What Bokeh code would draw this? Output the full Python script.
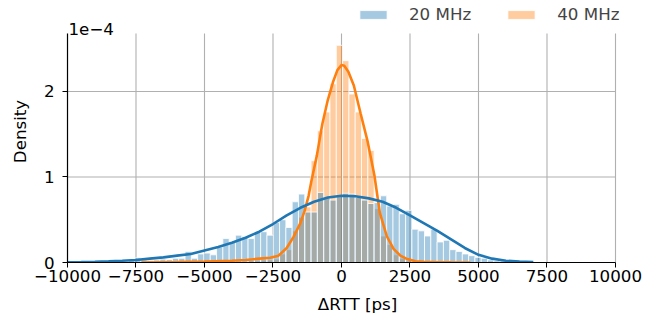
import numpy as np
from bokeh.plotting import figure
from bokeh.models import Range1d, FixedTicker, Legend, LegendItem, Label
from bokeh.embed import file_html
from bokeh.resources import INLINE

# ---------------- data (densities in units of 1e-4) ----------------
BIN_WIDTH = 230
BIN_ORIGIN = 40

blue_first_bin = -43
blue_density = [
    0.005, 0.0, 0.005, 0.01, 0.005, 0.01, 0.015, 0.02, 0.015, 0.03,      # -43..-34
    0.055, 0.03, 0.025, 0.03, 0.04, 0.035, 0.05, 0.05, 0.13, 0.05,       # -33..-24
    0.10, 0.11, 0.09, 0.18, 0.28, 0.24, 0.32, 0.30, 0.28, 0.35,          # -23..-14
    0.36, 0.32, 0.47, 0.50, 0.41, 0.71, 0.80, 0.59, 0.59, 0.82,          # -13..-4
    0.76, 0.73, 0.78, 0.81, 0.80, 0.76, 0.73, 0.69, 0.70, 0.78,          # -3..6
    0.66, 0.68, 0.57, 0.61, 0.39, 0.37, 0.31, 0.39, 0.24, 0.26,          # 7..16
    0.15, 0.13, 0.10, 0.08, 0.06, 0.05, 0.03, 0.02, 0.02, 0.01,          # 17..26
    0.01, 0.005,                                                         # 27..28
]

orange_first_bin = -16
orange_density = [
    0.01, 0.02, 0.02, 0.03, 0.03, 0.04, 0.10, 0.15, 0.37, 0.53,          # -16..-7
    0.65, 1.19, 1.54, 1.76, 2.09, 2.54, 2.36, 1.97, 1.76, 1.45,          # -6..3
    1.31, 0.63, 0.31, 0.21, 0.09, 0.05, 0.02, 0.01,                      # 4..11
]

blue_kde_x = [-10000, -9500, -9000, -8500, -8000, -7500, -7000, -6500, -6000, -5500,
              -5000, -4500, -4000, -3500, -3000, -2500, -2000, -1500, -1000, -500,
              0, 500, 1000, 1500, 2000, 2500, 3000, 3500, 4000, 4500,
              5000, 5500, 6000, 6500, 7000]
blue_kde_y = [0.003, 0.005, 0.008, 0.013, 0.02, 0.03, 0.045, 0.06, 0.08, 0.10,
              0.14, 0.18, 0.23, 0.29, 0.36, 0.45, 0.55, 0.64, 0.71, 0.76,
              0.78, 0.775, 0.75, 0.71, 0.64, 0.55, 0.46, 0.37, 0.27, 0.17,
              0.09, 0.045, 0.02, 0.01, 0.004]

orange_kde_x = [-7300, -6000, -5000, -4000, -3500, -3000, -2600, -2300, -2000, -1750,
                -1500, -1350, -1200, -1100, -900, -700, -500, -300, -150, 0,
                100, 250, 450, 700, 950, 1200, 1400, 1650, 1900, 2150,
                2400, 2700, 3000, 3500, 4000, 4700]
orange_kde_y = [0.0, 0.005, 0.01, 0.02, 0.03, 0.045, 0.055, 0.08, 0.17, 0.30,
                0.46, 0.60, 0.78, 0.95, 1.25, 1.62, 1.90, 2.12, 2.25, 2.31,
                2.30, 2.23, 2.07, 1.74, 1.42, 1.02, 0.58, 0.31, 0.16, 0.08,
                0.04, 0.015, 0.008, 0.003, 0.001, 0.0]

x_ticks = [-10000, -7500, -5000, -2500, 0, 2500, 5000, 7500, 10000]
y_ticks = [0, 1, 2]
x_min, x_max = -10000, 10000     # axes extent
x_canvas_max = 11168             # head-room to the right so the legend is not clipped
y_top = 2.678                    # top of the axes area (data units of 1e-4)
y_canvas_top = 3.064             # head-room above the axes for legend / scale text
y_scale_label = "1e\u22124"
series_labels = ["20 MHz", "40 MHz"]

BLUE = "#1f77b4"
ORANGE = "#ff7f0e"
GRID = "#b0b0b0"
FONT = "DejaVu Sans"
FS = "16.7px"

# ---------------- figure ----------------
p = figure(width=662, height=322, output_backend="svg", toolbar_location=None,
           x_range=Range1d(x_min, x_canvas_max), y_range=Range1d(0, y_canvas_top),
           min_border_left=67, min_border_right=15, min_border_top=0,
           min_border_bottom=60)
p.outline_line_color = None
p.background_fill_color = "white"

# grid lines limited to the axes area
p.xgrid.visible = False
p.ygrid.visible = False
p.segment(x0=x_ticks, y0=[0] * len(x_ticks), x1=x_ticks, y1=[y_top] * len(x_ticks),
          line_color=GRID, line_width=1.1, level="underlay")
p.segment(x0=[x_min] * len(y_ticks), y0=y_ticks, x1=[x_max] * len(y_ticks), y1=y_ticks,
          line_color=GRID, line_width=1.1, level="underlay")

b_idx = np.arange(blue_first_bin, blue_first_bin + len(blue_density))
b_left = BIN_ORIGIN + BIN_WIDTH * b_idx
o_idx = np.arange(orange_first_bin, orange_first_bin + len(orange_density))
o_left = BIN_ORIGIN + BIN_WIDTH * o_idx

r_orange = p.quad(left=o_left, right=o_left + BIN_WIDTH, bottom=0, top=orange_density,
                  fill_color=ORANGE, fill_alpha=0.4, line_color="white",
                  line_alpha=0.8, line_width=1)
r_blue = p.quad(left=b_left, right=b_left + BIN_WIDTH, bottom=0, top=blue_density,
                fill_color=BLUE, fill_alpha=0.4, line_color="white",
                line_alpha=0.8, line_width=1)

p.line(orange_kde_x, orange_kde_y, line_color=ORANGE, line_width=2.6)
p.line(blue_kde_x, blue_kde_y, line_color=BLUE, line_width=2.6)

# axes
for ax in (p.xaxis[0], p.yaxis[0]):
    ax.axis_line_color = "black"
    ax.axis_line_width = 1.2
    ax.major_tick_line_color = "black"
    ax.major_tick_line_width = 1
    ax.major_tick_out = 5
    ax.major_tick_in = 0
    ax.minor_tick_out = 0
    ax.minor_tick_in = 0
    ax.major_label_text_font = FONT
    ax.major_label_text_font_size = FS
    ax.major_label_text_color = "black"
    ax.axis_label_text_font = FONT
    ax.axis_label_text_font_size = FS
    ax.axis_label_text_font_style = "normal"
    ax.axis_label_text_color = "black"

p.xaxis.ticker = FixedTicker(ticks=x_ticks)
p.xaxis.bounds = (x_min, x_max)
p.xaxis.major_label_overrides = {t: (str(t).replace("-", "\u2212")) for t in x_ticks}
p.xaxis.axis_label = "\u0394RTT [ps]"
p.xaxis.major_label_standoff = 2
p.xaxis.axis_label_standoff = 9

p.yaxis.ticker = FixedTicker(ticks=y_ticks)
p.yaxis.bounds = (0, y_top)
p.yaxis.major_label_overrides = {t: str(t) for t in y_ticks}
p.yaxis.axis_label = "Density"
p.yaxis.major_label_standoff = 8
p.yaxis.axis_label_standoff = 11

# scale factor of the y axis
p.add_layout(Label(x=x_min, y=y_top, text=y_scale_label, text_font=FONT,
                   text_font_size=FS, text_baseline="alphabetic",
                   text_align="left", x_offset=1, y_offset=5, text_color="black"))

legend = Legend(items=[LegendItem(label=series_labels[0], renderers=[r_blue]),
                       LegendItem(label=series_labels[1], renderers=[r_orange])],
                orientation="horizontal", location=(289, 238),
                glyph_width=34, glyph_height=11, label_standoff=19, spacing=33,
                padding=0, margin=0, border_line_alpha=0, background_fill_alpha=0,
                label_text_font=FONT, label_text_font_size=FS)
p.add_layout(legend, "center")

open("out.html", "w").write(file_html(p, INLINE))
